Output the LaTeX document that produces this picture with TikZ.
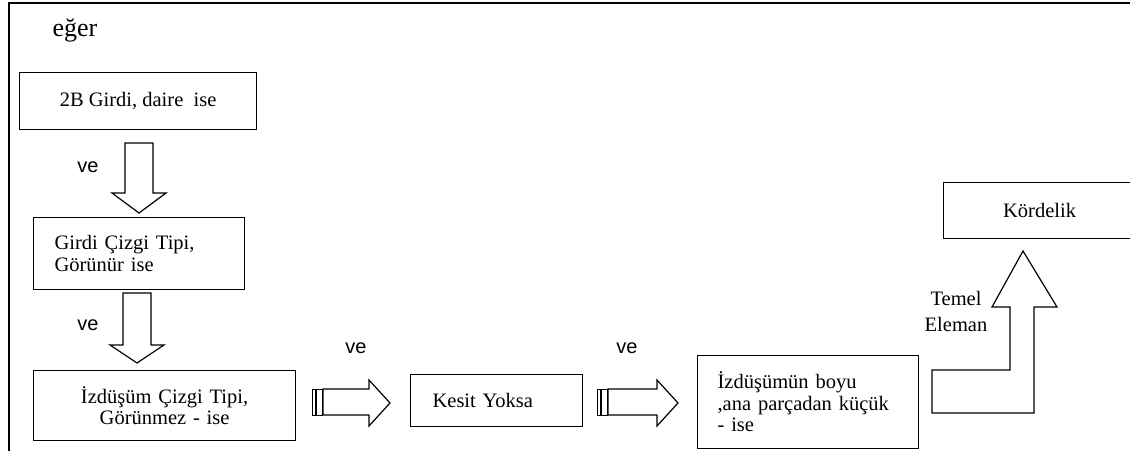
\documentclass[tikz,border=0pt]{standalone}
\usepackage{fontspec}
\setmainfont{Liberation Serif}
\newfontfamily\vefont{Liberation Sans}
\usetikzlibrary{positioning}
\tikzset{
  kutu/.style   ={draw,line width=1.2pt,anchor=north west,inner ysep=0pt,
                  font=\fontsize{20.5}{21.5}\selectfont},
  solkutu/.style={kutu,align=left},
  blok/.style   ={draw,line width=1.2pt,fill=white,line join=miter},
  serit/.style  ={draw,line width=1pt},
  ve/.style     ={font=\vefont\fontsize{20}{21}\selectfont,inner sep=0pt},
  yazi/.style   ={font=\fontsize{20.5}{24}\selectfont,inner sep=0pt},
}
\begin{document}
\begin{tikzpicture}[x=1pt,y=-1pt]
\useasboundingbox (0,0) rectangle (1130,450);
% cerceve
\draw[line width=1.4pt] (9,451) -- (9,3) -- (1131,3);
\node[yazi,font=\fontsize{26}{28}\selectfont] (eger) at (75,30) {eğer};
% kutular
\node[kutu,minimum width=237,minimum height=57,inner xsep=0pt] (daire) at (19,72)
  {2B Girdi, daire~~ise};
\node[solkutu,text width=169,inner xsep=21,minimum height=72] (gorunur) at (33,217)
  {Girdi Çizgi Tipi,\\ Görünür ise};
\node[kutu,align=center,text width=222,inner xsep=20,minimum height=70] (gorunmez) at (33,370)
  {İzdüşüm Çizgi Tipi,\\ Görünmez - ise};
\node[solkutu,text width=128,inner xsep=22,minimum height=52] (kesit) at (410,374)
  {Kesit Yoksa};
\node[solkutu,text width=181,inner xsep=20,minimum height=93] (boy) at (697,355)
  {İzdüşümün boyu\\ ,ana~parçadan~küçük\\ - ise};
\node[kutu,minimum width=192,minimum height=56,inner xsep=0pt] (kordelik) at (943,182)
  {Kördelik};
% asagi oklar
\draw[blok] (125,143) -- (125,193) -- (112,193) -- (139,213) -- (166,193)
  -- (153,193) -- (153,143) -- cycle;
\draw[blok] (123,293) -- (123,345) -- (110,345) -- (137,363) -- (164,345)
  -- (151,345) -- (151,293) -- cycle;
\node[ve] (ve1) at (88,167) {ve};
\node[ve] (ve2) at (88,325) {ve};
% saga oklar
\draw[serit] (312,389) rectangle (315.5,415);
\draw[serit] (316,389) rectangle (322.5,415);
\draw[blok] (323,389) -- (369,389) -- (369,380) -- (390,403) -- (369,426)
  -- (369,415) -- (323,415) -- cycle;
\draw[serit] (597,389) rectangle (600.5,415);
\draw[serit] (601,389) rectangle (607.5,415);
\draw[blok] (608,389) -- (657,389) -- (657,380) -- (678,403) -- (657,426)
  -- (657,415) -- (608,415) -- cycle;
\node[ve] (ve3) at (356,348) {ve};
\node[ve] (ve4) at (627,348) {ve};
% yukari ok
\draw[blok] (932,413) -- (1034,413) -- (1034,307) -- (1057,307) -- (1023,251)
  -- (992,307) -- (1010,307) -- (1010,370) -- (932,370) -- cycle;
\node[yazi,align=center,font=\fontsize{20.5}{26}\selectfont] (temel) at (956,311) {Temel\\ Eleman};
\end{tikzpicture}
\end{document}
